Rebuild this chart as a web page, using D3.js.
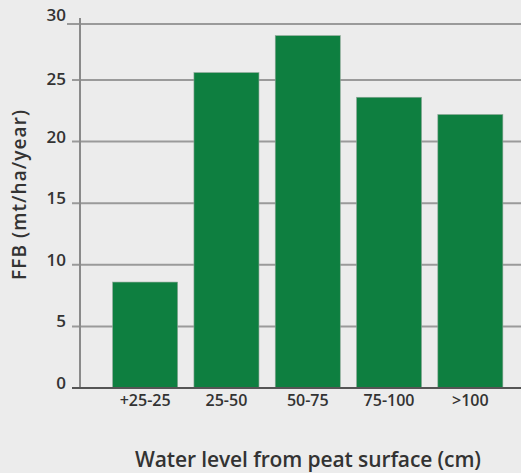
<!DOCTYPE html>
<html>
<head>
<meta charset="utf-8">
<script src="https://cdn.jsdelivr.net/npm/d3@7"></script>
<style>
  body { margin: 0; background: #ececec; }
  svg { display: block; font-family: "Open Sans", sans-serif; }
</style>
</head>
<body>
<svg></svg>
<script>
var width = 521,
	height = 473;

var categories = ["+25-25", "25-50", "50-75", "75-100", ">100"];
var ffb = [8.6, 25.6, 28.6, 23.6, 22.2];
var yTicks = [0, 5, 10, 15, 20, 25, 30];

var svg = d3.select("svg")
			.attr("width", width)
			.attr("height", height);

var x = d3.scaleBand()
			.domain(categories)
			.range([104.5, 511])
			.paddingInner(0.2)
			.paddingOuter(0.1);

var y = d3.scaleLinear()
			.domain([0, 25])
			.range([388, 80]);

// the top line sits a bit lower than the scale says in the original
function gy(d) { return d == 30 ? 24 : y(d); }

svg.append("g")
	.selectAll("line")
	.data(yTicks.filter(function(d) { return d > 0; }))
	.enter()
	.append("line")
	.attr("x1", function(d) { return d == 30 ? 67 : 72; })
	.attr("x2", width)
	.attr("y1", gy)
	.attr("y2", gy)
	.attr("stroke", "#9a9a9a")
	.attr("stroke-width", 2);

svg.append("line")
	.attr("x1", 80).attr("x2", 80)
	.attr("y1", 18).attr("y2", y(0))
	.attr("stroke", "#8a8a8a")
	.attr("stroke-width", 2);

svg.append("g")
	.selectAll("rect")
	.data(ffb)
	.enter()
	.append("rect")
	.attr("x", function(d, i) { return x(categories[i]); })
	.attr("y", function(d) { return y(d); })
	.attr("width", x.bandwidth())
	.attr("height", function(d) { return y(0) - y(d); })
	.attr("fill", "#0e7f40")
	.attr("stroke", "#8fa898")
	.attr("stroke-width", 0.6);

svg.append("line")
	.attr("x1", 72).attr("x2", width)
	.attr("y1", y(0)).attr("y2", y(0))
	.attr("stroke", "#555")
	.attr("stroke-width", 2);

svg.append("g")
	.selectAll("text")
	.data(yTicks)
	.enter()
	.append("text")
	.attr("x", 66)
	.attr("y", function(d) {
		if (d == 30) return 21;
		if (d == 25) return y(d) + 5;
		return y(d) + 1;
	})
	.attr("text-anchor", "end")
	.style("font-size", "17px")
	.style("font-weight", "600")
	.style("fill", "#333")
	.text(function(d) { return d; });

svg.append("g")
	.selectAll("text")
	.data(categories)
	.enter()
	.append("text")
	.attr("x", function(d) { return x(d) + x.bandwidth() / 2; })
	.attr("y", 406)
	.attr("text-anchor", "middle")
	.style("font-size", "16px")
	.style("font-weight", "600")
	.style("fill", "#333")
	.text(function(d) { return d; });

svg.append("text")
	.attr("x", 308)
	.attr("y", 467)
	.attr("text-anchor", "middle")
	.attr("textLength", 346)
	.attr("lengthAdjust", "spacing")
	.style("font-size", "21px")
	.style("font-weight", "600")
	.style("fill", "#333")
	.text("Water level from peat surface (cm)");

svg.append("text")
	.attr("transform", "translate(26,195) rotate(-90)")
	.attr("text-anchor", "middle")
	.attr("textLength", 170)
	.attr("lengthAdjust", "spacing")
	.style("font-size", "19px")
	.style("font-weight", "600")
	.style("fill", "#333")
	.text("FFB (mt/ha/year)");
</script>
</body>
</html>
